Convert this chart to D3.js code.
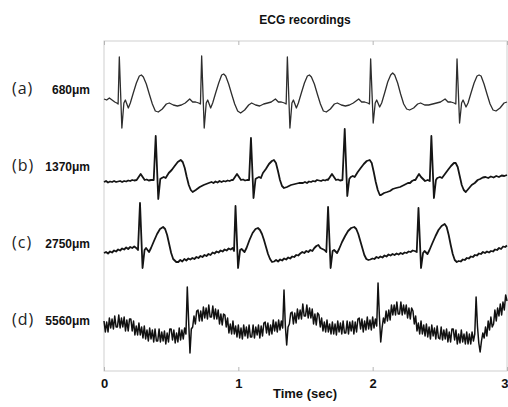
<!DOCTYPE html>
<html>
<head>
<meta charset="utf-8">
<script src="https://cdn.jsdelivr.net/npm/d3@7"></script>
<style>
  body { margin: 0; background: #fff; }
  svg { display: block; }
</style>
</head>
<body>
<svg id="chart" width="508" height="407"></svg>
<script>
// rows, labels and axis ticks
var rows = ["a", "b", "c", "d"];
var rowTags = ["(a)", "(b)", "(c)", "(d)"];
var depths = ["680\u03bcm", "1370\u03bcm", "2750\u03bcm", "5560\u03bcm"];
var timeTicks = [0, 1, 2, 3];

// traces: [time (s), amplitude]
var traceA = [
  [0,0.1],[0.02,0],[0.04,0.2],[0.06,0],[0.08,-0.2],[0.095,-0.3],
  [0.105,-0.4],[0.114,4.3],[0.133,-2.8],[0.148,-0.3],[0.159,0],[0.181,-0.8],[0.196,-0.3],[0.218,0.7],[0.241,1.7],[0.263,2.4],[0.278,2.5],[0.293,2.3],[0.315,1.6],[0.337,0.6],[0.36,-0.4],[0.382,-1.1],[0.404,-1.2],[0.434,-0.9],[0.464,-0.4],[0.486,-0.3],[0.516,-0.5],[0.546,-0.6],[0.576,-0.5],[0.605,-0.3],
  [0.638,0.1],[0.66,-0.2],[0.682,-0.2],[0.705,-0.3],[0.718,-0.4],
  [0.727,4.4],[0.746,-2.8],[0.761,-0.3],[0.772,0],[0.794,-0.8],[0.809,-0.3],[0.831,0.7],[0.854,1.7],[0.876,2.5],[0.891,2.6],[0.906,2.4],[0.928,1.6],[0.95,0.6],[0.973,-0.4],[0.995,-1.1],[1.017,-1.3],[1.047,-1],[1.077,-0.5],[1.099,-0.3],[1.129,-0.5],[1.159,-0.6],[1.189,-0.4],[1.218,-0.3],[1.245,-0.2],
  [1.276,0.1],[1.298,-0.2],[1.32,-0.2],[1.343,-0.3],[1.356,-0.4],
  [1.365,4.3],[1.384,-2.8],[1.399,-0.3],[1.41,0],[1.432,-0.8],[1.447,-0.3],[1.469,0.7],[1.492,1.7],[1.514,2.4],[1.529,2.5],[1.544,2.3],[1.566,1.6],[1.588,0.6],[1.611,-0.4],[1.633,-1.1],[1.655,-1.2],[1.685,-0.9],[1.715,-0.4],[1.737,-0.3],[1.767,-0.5],[1.797,-0.6],[1.827,-0.5],[1.856,-0.3],
  [1.896,0.1],[1.918,-0.2],[1.94,-0.2],[1.963,-0.3],[1.976,-0.4],
  [1.985,4.1],[2.004,-2.3],[2.019,-0.3],[2.03,0],[2.052,-0.7],[2.067,-0.3],[2.089,0.7],[2.112,1.8],[2.134,2.5],[2.149,2.7],[2.164,2.5],[2.186,1.7],[2.208,0.6],[2.231,-0.4],[2.253,-0.9],[2.275,-1],[2.305,-0.8],[2.335,-0.4],[2.357,-0.3],[2.387,-0.5],[2.417,-0.5],[2.447,-0.4],[2.476,-0.3],[2.505,-0.2],
  [2.539,0.1],[2.561,-0.2],[2.583,-0.2],[2.606,-0.3],[2.619,-0.4],
  [2.628,4.1],[2.647,-2.3],[2.662,-0.3],[2.673,0],[2.695,-0.7],[2.71,-0.3],[2.732,0.7],[2.755,1.7],[2.777,2.4],[2.792,2.5],[2.807,2.4],[2.829,1.6],[2.851,0.6],[2.874,-0.4],[2.896,-1],[2.918,-1.1],[2.948,-0.8],[2.978,-0.3],[3,-0.2]
];

var traceB = [
  [0,-0.5],[0.015,-0.4],[0.03,-0.55],[0.045,-0.45],[0.06,-0.5],[0.075,-0.4],[0.09,-0.5],[0.105,-0.45],[0.12,-0.4],[0.135,-0.5],[0.15,-0.4],[0.165,-0.45],[0.18,-0.35],[0.195,-0.4],[0.21,-0.3],[0.225,-0.35],
  [0.243,-0.3],[0.258,0],[0.273,0.3],[0.288,0],[0.303,-0.3],[0.318,-0.25],[0.333,-0.35],[0.35,-0.3],[0.37,-0.3],
  [0.385,4.1],[0.404,-2.2],[0.419,-0.2],[0.43,-0.1],[0.445,0],[0.459,-0.1],[0.482,0.4],[0.504,0.7],[0.526,1.1],[0.549,1.5],[0.571,1.7],[0.586,1.5],[0.601,0.9],[0.616,0],[0.631,-0.8],[0.646,-1.3],[0.66,-1.5],[0.683,-1.3],[0.713,-1],[0.742,-0.8],[0.78,-0.6],
  [0.8,-0.5],[0.815,-0.6],[0.83,-0.45],[0.845,-0.55],[0.86,-0.4],[0.875,-0.5],[0.89,-0.4],[0.905,-0.45],[0.92,-0.35],[0.935,-0.4],[0.95,-0.3],
  [0.96,-0.3],[0.975,0],[0.99,0.3],[1.005,0],[1.02,-0.3],[1.035,-0.25],[1.05,-0.35],[1.065,-0.3],[1.08,-0.3],
  [1.094,3.9],[1.113,-2.1],[1.128,-0.2],[1.139,-0.1],[1.154,0],[1.168,-0.1],[1.183,0.4],[1.205,0.8],[1.228,1.3],[1.25,1.6],[1.265,1.7],[1.28,1.4],[1.295,0.6],[1.31,-0.3],[1.325,-0.9],[1.34,-1.1],[1.362,-1],[1.392,-0.8],[1.422,-0.7],[1.452,-0.6],
  [1.481,-0.6],[1.496,-0.5],[1.511,-0.6],[1.526,-0.45],[1.541,-0.5],[1.556,-0.4],[1.571,-0.45],[1.586,-0.3],[1.601,-0.35],[1.616,-0.4],[1.631,-0.3],[1.646,-0.35],[1.661,-0.25],
  [1.667,-0.3],[1.682,0],[1.697,0.3],[1.712,0],[1.727,-0.3],[1.742,-0.25],[1.757,-0.35],[1.775,-0.3],
  [1.792,4.8],[1.811,-1.9],[1.826,-0.2],[1.837,0],[1.852,0.1],[1.866,0],[1.889,0.5],[1.911,0.9],[1.934,1.3],[1.956,1.6],[1.978,1.7],[1.993,1.4],[2.008,0.5],[2.023,-0.5],[2.038,-1.3],[2.053,-1.8],[2.062,-1.8],[2.085,-1.6],[2.108,-1.5],[2.129,-1.4],[2.15,-1.2],[2.174,-1.1],[2.204,-1],[2.234,-0.8],[2.263,-0.6],[2.278,-0.6],[2.293,-0.4],[2.308,-0.3],
  [2.318,-0.3],[2.331,0],[2.345,0.3],[2.36,0],[2.375,-0.2],[2.39,-0.4],[2.41,-0.3],[2.425,-0.4],
  [2.437,4.1],[2.456,-2.1],[2.471,-0.3],[2.481,-0.1],[2.501,0],[2.516,-0.1],[2.538,0.3],[2.56,0.7],[2.583,1.1],[2.605,1.4],[2.618,1.4],[2.633,1],[2.648,0.1],[2.663,-0.8],[2.678,-1.3],[2.693,-1.5],[2.712,-1.2],[2.737,-0.8],[2.76,-0.6],[2.782,-0.3],[2.8,-0.2],[2.82,-0.05],[2.84,0],[2.86,-0.1],[2.88,0.05],[2.9,-0.05],[2.92,0.1],[2.94,0],[2.96,0.15],[2.98,0.1],[3,0.2]
];

var traceC = [
  [0,0.1],[0.015,0.2],[0.03,0.05],[0.045,0.25],[0.06,0.15],[0.075,0.35],[0.09,0.25],[0.105,0.45],[0.12,0.35],[0.135,0.55],[0.15,0.45],[0.165,0.65],[0.18,0.5],[0.195,0.7],[0.21,0.6],[0.225,0.75],[0.24,0.6],[0.253,0.4],
  [0.268,5.1],[0.287,-1.4],[0.302,0.4],[0.313,0.6],[0.335,0.2],[0.35,0.6],[0.372,1.3],[0.395,2],[0.417,2.5],[0.44,2.7],[0.455,2.5],[0.47,1.9],[0.485,1],[0.5,0.1],[0.515,-0.5],[0.538,-0.8],[0.553,-0.8],
  [0.568,-0.6],[0.583,-0.75],[0.598,-0.5],[0.613,-0.65],[0.628,-0.45],[0.643,-0.55],[0.658,-0.4],[0.673,-0.5],[0.688,-0.3],[0.703,-0.4],[0.718,-0.2],[0.733,-0.3],[0.748,-0.1],[0.763,-0.2],[0.778,0],[0.793,-0.1],[0.808,0.15],[0.823,0.05],[0.838,0.25],[0.853,0.15],[0.868,0.35],[0.883,0.25],[0.898,0.45],[0.913,0.35],[0.928,0.55],[0.943,0.45],[0.958,0.6],[0.968,0.3],
  [0.979,4.8],[0.998,-1.4],[1.013,0.4],[1.024,0.5],[1.046,0.2],[1.061,0.6],[1.083,1.4],[1.106,2.1],[1.128,2.5],[1.146,2.6],[1.161,2.4],[1.176,2],[1.191,1.4],[1.206,0.7],[1.221,0],[1.236,-0.5],[1.251,-0.8],[1.266,-0.75],
  [1.281,-0.6],[1.296,-0.75],[1.311,-0.55],[1.326,-0.65],[1.341,-0.45],[1.356,-0.55],[1.371,-0.35],[1.386,-0.45],[1.401,-0.25],[1.416,-0.3],[1.431,-0.1],[1.446,-0.15],[1.461,0.05],[1.476,0.2],[1.491,0.1],[1.506,0.3],[1.521,0.2],[1.536,0.4],[1.551,0.3],[1.566,0.6],[1.581,0.8],[1.596,0.9],[1.611,0.6],[1.626,0.5],[1.641,0.4],[1.655,0.2],
  [1.668,4.7],[1.687,-1.4],[1.702,0.3],[1.713,0.4],[1.735,0.1],[1.75,0.5],[1.772,1.2],[1.795,1.8],[1.817,2.3],[1.84,2.6],[1.863,2.7],[1.878,2.5],[1.893,2],[1.908,1.3],[1.923,0.6],[1.938,-0.1],[1.953,-0.5],[1.968,-0.6],
  [1.983,-0.55],[1.998,-0.45],[2.013,-0.5],[2.028,-0.3],[2.043,-0.4],[2.058,-0.25],[2.073,-0.35],[2.088,-0.15],[2.103,-0.25],[2.118,-0.05],[2.133,-0.15],[2.148,0],[2.163,-0.1],[2.178,0.05],[2.193,-0.05],[2.208,0.1],[2.223,0],[2.238,0.15],[2.253,0.1],[2.268,0.25],[2.283,0.2],[2.298,0.35],[2.313,0.3],[2.328,0.2],
  [2.341,4.6],[2.36,-1.4],[2.375,0.1],[2.386,0.3],[2.408,0],[2.423,0.4],[2.445,1.1],[2.468,1.8],[2.49,2.4],[2.513,2.8],[2.536,3],[2.551,2.7],[2.566,1.9],[2.581,0.9],[2.596,0],[2.611,-0.6],[2.626,-0.8],
  [2.641,-0.7],[2.656,-0.75],[2.671,-0.55],[2.686,-0.6],[2.701,-0.4],[2.716,-0.45],[2.731,-0.25],[2.746,-0.3],[2.761,-0.1],[2.776,-0.15],[2.791,0.05],[2.806,0],[2.821,0.2],[2.836,0.1],[2.851,0.25],[2.866,0.15],[2.881,0.3],[2.896,0.25],[2.911,0.45],[2.926,0.4],[2.941,0.6],[2.956,0.5],[2.971,0.75],[2.986,0.7],[3,0.85]
];

// trace (d) is sampled every 10 ms (one line = 0.1 s)
var sampleStepD = 0.01;
var traceD = [
  1.0, -0.1, 0.9, -0.1, 1.3, 0.3, 1.2, 0.2, 1.5, 0.4,
  0.4, 1.6, 0.3, 1.3, 0.4, 1.4, 0.0, 1.1, 0.0, 1.2,
  1.2, 0.0, 1.0, -0.4, 0.5, -0.4, 0.8, -0.4, 0.4, -0.7,
  0.5, -0.8, 0.1, -1.0, 0.3, -0.8, 0.1, -1.1, 0.2, -1.0,
  -1.0, 0.2, -1.1, -0.1, -1.0, 0.0, -1.3, -0.2, -1.1, 0.2,
  0.2, -0.9, 0.1, -1.2, -0.2, -1.1, 0.3, -0.9, 0.1, -0.8,
  0.3, -0.3, 4.4, 1.0, -2.2, 0.2, 0.4, 1.5, 0.7, 2.0,
  2.1, 1.0, 2.0, 1.0, 2.4, 1.3, 2.3, 1.2, 2.6, 1.4,
  1.4, 2.5, 1.2, 2.2, 1.2, 2.1, 0.7, 1.7, 0.6, 1.7,
  1.6, 0.4, 1.3, -0.2, 0.7, -0.3, 1.0, -0.3, 0.5, -0.6,
  0.6, -0.7, 0.3, -0.8, 0.6, -0.5, 0.4, -0.7, 0.6, -0.6,
  -0.6, 0.6, -0.7, 0.4, -0.4, 0.6, -0.7, 0.5, -0.5, 0.8,
  0.9, -0.2, 0.8, -0.4, 0.6, -0.3, 1.1, 0.0, 0.9, -0.1,
  1.1, 0.1, 1.0, 0.3, 4.1, 0.5, -1.4, 0.4, 0.7, 1.8,
  1.9, 0.7, 1.8, 0.8, 2.2, 1.2, 2.1, 1.2, 2.7, 1.5,
  1.5, 2.6, 1.3, 2.3, 1.3, 2.2, 0.7, 1.7, 0.6, 1.8,
  1.6, 0.4, 1.3, 0.0, 0.9, -0.1, 1.1, -0.1, 0.7, -0.3,
  0.9, -0.3, 0.7, -0.4, 1.0, -0.1, 0.8, -0.3, 1.0, -0.2,
  -0.2, 1.0, -0.3, 0.9, 0.0, 1.0, -0.3, 0.9, -0.1, 1.2,
  1.3, 0.2, 1.2, -0.1, 1.0, 0.1, 1.4, 0.2, 1.1, 0.1,
  1.4, 0.3, 1.2, 0.5, 4.8, 1.5, -1.1, 0.3, 1.3, 0.8,
  2.0, 1.0, 2.1, 1.1, 2.6, 1.6, 2.6, 1.6, 2.9, 1.7,
  1.7, 2.9, 1.6, 2.6, 1.7, 2.6, 1.3, 2.3, 1.2, 2.3,
  2.0, 0.7, 1.5, 0.0, 0.8, -0.3, 1.0, -0.3, 0.6, -0.5,
  0.7, -0.6, 0.4, -0.8, 0.6, -0.5, 0.3, -0.8, 0.5, -0.7,
  -0.8, 0.4, -0.9, 0.1, -0.8, 0.2, -1.1, -0.1, -1.1, 0.2,
  0.2, -0.9, 0.1, -1.3, -0.3, -1.2, 0.1, -1.1, -0.3, -1.3,
  -0.1, -1.3, -0.3, -1.3, -0.1, -1.0, -0.3, 3.4, 0.5, -1.2,
  -2.1, -1.0, -0.2, -0.7, 0.4, -0.5, 1.0, 0.1, 1.4, 0.4,
  0.7, 2.1, 1.0, 2.3, 1.5, 2.7, 1.6, 2.9, 2.1, 3.6,
  3.0
];

var svg = d3.select("#chart");
var x = d3.scaleLinear().domain([0, 3]).range([104, 507]);
var row = d3.scalePoint().domain(rows).range([100, 331]);
var amp = d3.scaleLinear().domain([-1, 1]).range([10, -10]);

var plotTop = 41, plotBottom = 371;

// frame
svg.append("rect")
    .attr("x", x(0)).attr("y", plotTop)
    .attr("width", x(3) - x(0)).attr("height", plotBottom - plotTop)
    .attr("fill", "none")
    .attr("stroke", "#cfcfcf")
    .attr("stroke-width", 1);

// bottom axis with labels, ticks pointing inward
var xAxis = svg.append("g")
    .attr("transform", "translate(0," + plotBottom + ")")
    .call(d3.axisBottom(x).tickValues(timeTicks).tickSize(-4).tickPadding(8).tickFormat(d3.format("d")));
xAxis.select(".domain").remove();
xAxis.selectAll("line").attr("stroke", "#b5b5b5");
xAxis.selectAll("text")
    .attr("fill", "#111")
    .style("font", "bold 13px 'Liberation Sans', Arial, sans-serif");
// last label sits at the right edge: keep it inside the picture
xAxis.selectAll("text").filter(function(d) { return d === 3; })
    .attr("text-anchor", "end")
    .attr("dx", 1);

var topAxis = svg.append("g")
    .attr("transform", "translate(0," + plotTop + ")")
    .call(d3.axisTop(x).tickValues(timeTicks).tickSize(-4).tickFormat(""));
topAxis.select(".domain").remove();
topAxis.selectAll("line").attr("stroke", "#b5b5b5");

// traces
var tracesById = {
    a: traceA,
    b: traceB,
    c: traceC,
    d: traceD.map(function(v, i) { return [i * sampleStepD, v]; })
};
var strokeW = { a: 1.3, b: 1.8, c: 1.8, d: 1.5 };
var strokeC = { a: "#2e2e2e", b: "#151515", c: "#151515", d: "#111" };

rows.forEach(function(id) {
    var line = d3.line()
        .x(function(d) { return x(d[0]); })
        .y(function(d) { return row(id) + amp(d[1]); });
    svg.append("path")
        .datum(tracesById[id])
        .attr("d", line)
        .attr("fill", "none")
        .attr("stroke", strokeC[id])
        .attr("stroke-width", strokeW[id])
        .attr("stroke-linejoin", "round");
});

// row labels
var labels = svg.selectAll("g.rowlabel").data(rows)
    .enter().append("g")
    .attr("class", "rowlabel")
    .attr("transform", function(d) { return "translate(0," + (row(d) - 6) + ")"; });

labels.append("text")
    .attr("x", 12)
    .style("font", "16px 'Open Sans', 'Liberation Sans', sans-serif")
    .style("letter-spacing", "1px")
    .attr("fill", "#222")
    .text(function(d, i) { return rowTags[i]; });

labels.append("text")
    .attr("x", 90)
    .attr("text-anchor", "end")
    .style("font", "bold 12px 'Liberation Sans', Arial, sans-serif")
    .attr("fill", "#111")
    .text(function(d, i) { return depths[i]; });

// title and axis label
svg.append("text")
    .attr("x", 305).attr("y", 24)
    .attr("text-anchor", "middle")
    .style("font", "bold 12px 'Liberation Sans', Arial, sans-serif")
    .attr("fill", "#111")
    .text("ECG recordings");

svg.append("text")
    .attr("x", 305).attr("y", 398)
    .attr("text-anchor", "middle")
    .style("font", "bold 13px 'Liberation Sans', Arial, sans-serif")
    .attr("fill", "#111")
    .text("Time (sec)");
</script>
</body>
</html>
